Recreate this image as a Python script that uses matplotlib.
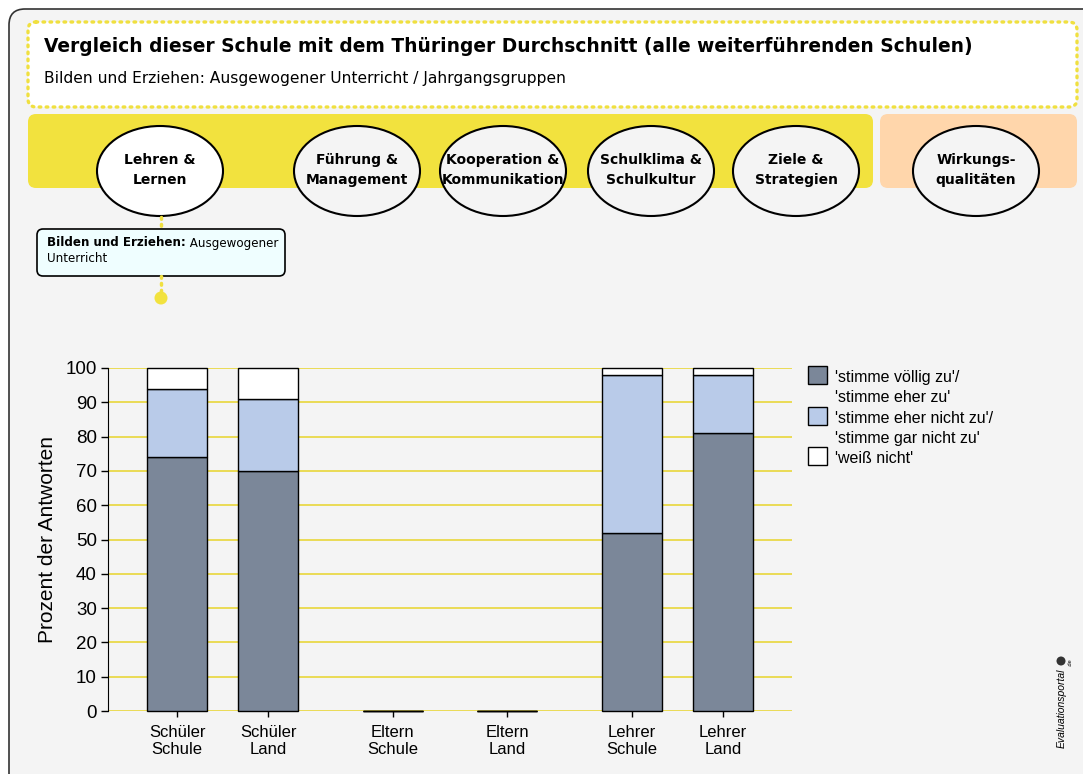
import matplotlib as mpl
import matplotlib.pyplot as plt
from matplotlib.patches import FancyBboxPatch, Ellipse, Rectangle, Circle
import numpy as np

# data
groups = ['Schüler\nSchule', 'Schüler\nLand', 'Eltern\nSchule', 'Eltern\nLand', 'Lehrer\nSchule', 'Lehrer\nLand']
positions = [0, 1, 2.37, 3.63, 5, 6]
zustimmung = [74, 70, 0, 0, 52, 81]
ablehnung = [20, 21, 0, 0, 46, 17]
weiss_nicht = [6, 9, 0, 0, 2, 2]
series_labels = ["'stimme völlig zu'/\n'stimme eher zu'",
                 "'stimme eher nicht zu'/\n'stimme gar nicht zu'",
                 "'weiß nicht'"]
series_colors = ['#7b8799', '#b9cbe9', '#ffffff']

title = 'Vergleich dieser Schule mit dem Thüringer Durchschnitt (alle weiterführenden Schulen)'
subtitle = 'Bilden und Erziehen: Ausgewogener Unterricht / Jahrgangsgruppen'
bereiche = ['Lehren &\nLernen', 'Führung &\nManagement', 'Kooperation &\nKommunikation',
            'Schulklima &\nSchulkultur', 'Ziele &\nStrategien', 'Wirkungs-\nqualitäten']
bereich_x = [160, 357, 503, 651, 796, 976]

W, H = 1083, 774
fig = plt.figure(figsize=(W / 100, H / 100), dpi=100)
fig.patch.set_facecolor('white')

# background layer in pixel coordinates
bg = fig.add_axes([0, 0, 1, 1])
bg.set_xlim(0, W)
bg.set_ylim(H, 0)
bg.axis('off')

bg.add_patch(FancyBboxPatch((9, 9), W + 20, H + 20, boxstyle='round,pad=0,rounding_size=16',
                            facecolor='#f4f4f4', edgecolor='#333333', lw=1.2))

# title box
bg.add_patch(FancyBboxPatch((28, 22), 1049, 85, boxstyle='round,pad=0,rounding_size=8',
                            facecolor='white', edgecolor='#f0e040', lw=2.4, linestyle=(0, (0.5, 1.6)),
                            capstyle='round'))
bg.text(44, 47, title, fontsize=13.4, fontweight='bold', va='center', ha='left', family='DejaVu Sans')
bg.text(44, 79, subtitle, fontsize=11.2, va='center', ha='left', family='DejaVu Sans')

# bands
bg.add_patch(FancyBboxPatch((28, 114), 845, 74, boxstyle='round,pad=0,rounding_size=8',
                            facecolor='#f2e23e', edgecolor='none'))
bg.add_patch(FancyBboxPatch((880, 114), 197, 74, boxstyle='round,pad=0,rounding_size=8',
                            facecolor='#ffd6ab', edgecolor='none'))

for i, (name, x) in enumerate(zip(bereiche, bereich_x)):
    fc = 'white' if i == 0 else '#f4f4f4'
    bg.add_patch(Ellipse((x, 171), 126, 90, facecolor=fc, edgecolor='black', lw=1.5))
    bg.text(x, 170, name, fontsize=10, fontweight='bold', ha='center', va='center',
            linespacing=1.5, family='DejaVu Sans')

# connector and info box
bg.plot([161, 161], [217, 229], color='#f0e040', lw=2.5, linestyle=(0, (0.5, 1.5)), dash_capstyle='round')
bg.plot([161, 161], [276, 294], color='#f0e040', lw=2.5, linestyle=(0, (0.5, 1.5)), dash_capstyle='round')
bg.add_patch(Circle((161, 298), 6.5, facecolor='#f2e23e', edgecolor='none'))
bg.add_patch(FancyBboxPatch((37, 229), 248, 47, boxstyle='round,pad=0,rounding_size=6',
                            facecolor='#effeff', edgecolor='black', lw=1.2))
t1 = bg.text(47, 243, 'Bilden und Erziehen:', fontsize=8.6, fontweight='bold', va='center', ha='left',
             family='DejaVu Sans')
bg.annotate(' Ausgewogener', xycoords=t1, xy=(1, 0.5), va='center', ha='left', fontsize=8.6,
            family='DejaVu Sans')
bg.text(47, 258, 'Unterricht', fontsize=8.6, va='center', ha='left', family='DejaVu Sans')

# logo
bg.text(1062, 708, 'Evaluationsportal', rotation=90, fontsize=7.5, style='italic', ha='center', va='center',
        family='Liberation Sans')
bg.add_patch(Circle((1061, 661), 4.5, facecolor='#333333', edgecolor='none'))
bg.text(1070, 662, '.de', rotation=90, fontsize=4, ha='center', va='center', family='Liberation Sans')

# chart
x0, x1 = 108, 792
y0, y1 = 711, 368
ax = fig.add_axes([x0 / W, (H - y0) / H, (x1 - x0) / W, (y0 - y1) / H])
ax.set_facecolor('none')

bottoms2 = np.array(zustimmung)
bottoms3 = bottoms2 + np.array(ablehnung)
bw = 0.66
ax.bar(positions, zustimmung, width=bw, color=series_colors[0], edgecolor='black', lw=1, zorder=3,
       clip_on=False)
ax.bar(positions, ablehnung, bottom=bottoms2, width=bw, color=series_colors[1], edgecolor='black', lw=1,
       zorder=3, clip_on=False)
ax.bar(positions, weiss_nicht, bottom=bottoms3, width=bw, color=series_colors[2], edgecolor='black', lw=1,
       zorder=3, clip_on=False)

ax.set_xlim(-0.76, 6.76)
ax.set_ylim(0, 100)
ax.set_yticks(range(0, 101, 10))
ax.set_yticklabels([str(v) for v in range(0, 101, 10)], fontsize=13.5, family='Liberation Sans')
ax.set_xticks(positions)
ax.set_xticklabels(groups, fontsize=12, family='Liberation Sans', linespacing=1.15)
for v in range(0, 101, 10):
    ax.axhline(v, color='#e8d63a', lw=1.2, zorder=1)
for s in ['top', 'right', 'bottom']:
    ax.spines[s].set_visible(False)
ax.spines['left'].set_color('black')
ax.tick_params(axis='y', length=5, width=1, pad=3)
ax.tick_params(axis='x', length=4, width=1, pad=6)
ax.set_ylabel('Prozent der Antworten', fontsize=15, family='Liberation Sans', labelpad=6)

# legend (handles aligned with first label line)
leg_y = [375, 416, 456]
for lab, col, yy in zip(series_labels, series_colors, leg_y):
    bg.add_patch(Rectangle((808, yy - 9), 19, 18, facecolor=col, edgecolor='black', lw=1))
    bg.text(835, yy - 5, lab, fontsize=11.5, va='top', ha='left', family='Liberation Sans', linespacing=1.45)

fig.savefig('out.png', dpi=100, facecolor=fig.get_facecolor())
